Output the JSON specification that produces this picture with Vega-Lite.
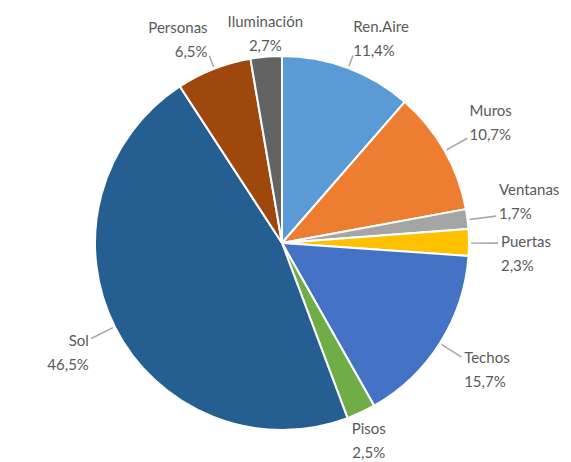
{
  "$schema": "https://vega.github.io/schema/vega-lite/v6.json",
  "width": 564,
  "height": 438,
  "autosize": {"type": "none"},
  "padding": {"left": 0, "top": 24, "right": 7, "bottom": 0},
  "background": "white",
  "view": {"stroke": null},
  "data": {
    "values": [
      {"idx": 1, "cat": "Ren.Aire", "value": 11.4, "label": "Ren.Aire\n11,4%"},
      {"idx": 2, "cat": "Muros", "value": 10.7, "label": "Muros\n10,7%"},
      {"idx": 3, "cat": "Ventanas", "value": 1.7, "label": "Ventanas\n1,7%"},
      {"idx": 4, "cat": "Puertas", "value": 2.3, "label": "Puertas\n2,3%"},
      {"idx": 5, "cat": "Techos", "value": 15.7, "label": "Techos\n15,7%"},
      {"idx": 6, "cat": "Pisos", "value": 2.5, "label": "Pisos\n2,5%"},
      {"idx": 7, "cat": "Sol", "value": 46.5, "label": "Sol\n46,5%"},
      {"idx": 8, "cat": "Personas", "value": 6.5, "label": "Personas\n6,5%"},
      {"idx": 9, "cat": "Iluminación", "value": 2.7, "label": "Iluminación\n2,7%"}
    ]
  },
  "encoding": {
    "color": {
      "field": "cat",
      "type": "nominal",
      "legend": null,
      "scale": {
        "domain": ["Ren.Aire", "Muros", "Ventanas", "Puertas", "Techos", "Pisos", "Sol", "Personas", "Iluminación"],
        "range": ["#5B9BD5", "#ED7D31", "#A5A5A5", "#FFC000", "#4472C4", "#70AD47", "#255E91", "#9E480E", "#636363"]
      }
    }
  },
  "layer": [
    {
      "mark": {"type": "arc", "outerRadius": 187, "stroke": "white", "strokeWidth": 2},
      "encoding": {
        "theta": {"field": "value", "type": "quantitative", "stack": true, "scale": {"domain": [0, 100]}},
        "order": {"field": "idx", "type": "quantitative"}
      }
    },
    {
      "transform": [
        {"window": [{"op": "sum", "field": "value", "as": "cum"}], "sort": [{"field": "idx"}]},
        {"calculate": "datum.cum - datum.value / 2", "as": "mid"},
        {"calculate": "datum.mid + 0.12", "as": "mid2"},
        {"filter": {"field": "cat", "oneOf": ["Ren.Aire", "Muros", "Ventanas", "Puertas", "Techos", "Sol", "Personas"]}}
      ],
      "mark": {
        "type": "arc",
        "radius": {"expr": "192 + 24*abs(sin(datum.mid*PI/50))"},
        "radius2": 189,
        "fill": "#A6A6A6",
        "stroke": null
      },
      "encoding": {
        "theta": {"field": "mid", "type": "quantitative", "stack": null, "scale": {"domain": [0, 100]}},
        "theta2": {"field": "mid2"},
        "color": {"value": "#A6A6A6"}
      }
    },
    {
      "transform": [
        {"window": [{"op": "sum", "field": "value", "as": "cum"}], "sort": [{"field": "idx"}]},
        {"calculate": "datum.cum - datum.value / 2", "as": "mid"}
      ],
      "mark": {
        "type": "text",
        "radius": {"expr": "195 + 24*abs(sin(datum.mid*PI/50))"},
        "font": "Lato",
        "fontSize": 15,
        "lineHeight": 24,
        "lineBreak": "\n",
        "align": {"expr": "cos(datum.mid*PI/50) < -0.85 ? 'center' : (sin(datum.mid*PI/50) > 0.2 ? 'left' : (sin(datum.mid*PI/50) < -0.2 ? 'right' : 'center'))"},
        "baseline": "middle",
        "dy": {"expr": "cos(datum.mid*PI/50) > 0.05 ? -25 : 0"}
      },
      "encoding": {
        "theta": {"field": "mid", "type": "quantitative", "stack": null, "scale": {"domain": [0, 100]}},
        "text": {"field": "label", "type": "nominal"},
        "color": {"value": "#595959"}
      }
    }
  ]
}
